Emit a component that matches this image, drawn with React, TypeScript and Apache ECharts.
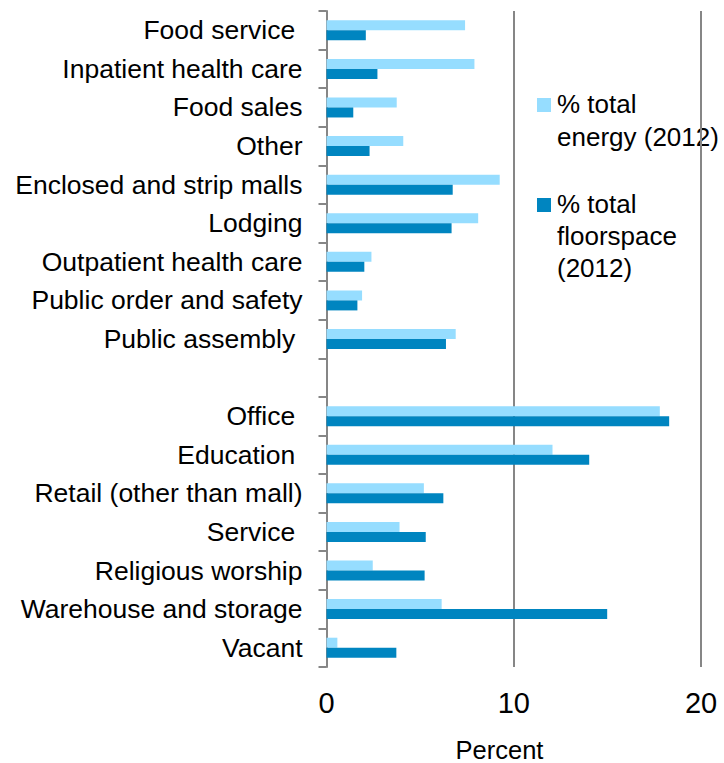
import React, { useEffect, useRef } from "react";
import * as echarts from "echarts";

const categories = [
  "Food service ",
  "Inpatient health care",
  "Food sales",
  "Other",
  "Enclosed and strip malls",
  "Lodging",
  "Outpatient health care",
  "Public order and safety",
  "Public assembly ",
  "",
  "Office ",
  "Education ",
  "Retail (other than mall)",
  "Service ",
  "Religious worship",
  "Warehouse and storage",
  "Vacant",
];

const energyShare = [7.4, 7.9, 3.75, 4.1, 9.25, 8.1, 2.4, 1.9, 6.9, null, 17.8, 12.07, 5.2, 3.9, 2.47, 6.15, 0.58];
const floorspaceShare = [2.1, 2.72, 1.43, 2.3, 6.74, 6.68, 2.02, 1.65, 6.38, null, 18.3, 14.03, 6.24, 5.3, 5.24, 14.99, 3.73];

const xTicks = [0, 10, 20];
const energyName = "% total\nenergy (2012)";
const floorName = "% total\nfloorspace\n(2012)";
const xAxisTitle = "Percent";

const FONT = "'Liberation Sans', Arial, Helvetica, sans-serif";
const LIGHT = "#96DDFF";
const DARK = "#0085C0";
const GRID = "#868686";

export default function App() {
  const ref = useRef<HTMLDivElement>(null);
  useEffect(() => {
    if (!ref.current) return;
    const chart = echarts.init(ref.current, null, { renderer: "svg" });
    chart.setOption({
      animation: false,
      backgroundColor: "#ffffff",
      grid: { left: 326.5, right: 23, top: 11, height: 656, containLabel: false },
      xAxis: {
        type: "value",
        min: xTicks[0],
        max: xTicks[xTicks.length - 1],
        interval: 10,
        axisLine: { show: false },
        axisTick: { show: false },
        axisLabel: { fontSize: 29, color: "#000", fontFamily: FONT, margin: 21 },
        splitLine: { show: true, lineStyle: { color: GRID, width: 2 } },
      },
      yAxis: {
        type: "category",
        data: categories,
        inverse: true,
        axisLine: { show: true, lineStyle: { color: GRID, width: 2 } },
        axisTick: { show: true, length: 8, lineStyle: { color: GRID, width: 2 } },
        axisLabel: { fontSize: 26.5, color: "#000", fontFamily: FONT, margin: 24 },
        splitLine: { show: false },
      },
      series: [
        {
          name: energyName,
          type: "bar",
          data: energyShare,
          barWidth: 10,
          barGap: "0%",
          itemStyle: { color: LIGHT },
        },
        {
          name: floorName,
          type: "bar",
          data: floorspaceShare,
          barWidth: 10,
          barGap: "0%",
          itemStyle: { color: DARK },
        },
      ],
      graphic: [
        {
          type: "group",
          z: 100,
          children: [
            { type: "rect", shape: { x: 528, y: 84, width: 196, height: 200 }, style: { fill: "#fff" } },
            { type: "rect", shape: { x: 537, y: 98, width: 14, height: 14 }, style: { fill: LIGHT } },
            {
              type: "text",
              x: 557,
              y: 87,
              style: { text: energyName, font: `26px ${FONT}`, fill: "#000", lineHeight: 33, verticalAlign: "top" },
            },
            { type: "rect", shape: { x: 537, y: 198, width: 14, height: 14 }, style: { fill: DARK } },
            {
              type: "text",
              x: 557,
              y: 188,
              style: { text: floorName, font: `26px ${FONT}`, fill: "#000", lineHeight: 32, verticalAlign: "top" },
            },
          ],
        },
        {
          type: "text",
          x: 499.5,
          y: 750,
          style: {
            text: xAxisTitle,
            font: `25.5px ${FONT}`,
            lineHeight: 24,
            fill: "#000",
            align: "center",
            verticalAlign: "middle",
          },
        },
      ],
    });
    return () => chart.dispose();
  }, []);
  return (
    <div
      ref={ref}
      style={{ position: "absolute", left: 0, top: 0, width: 724, height: 763 }}
    />
  );
}
